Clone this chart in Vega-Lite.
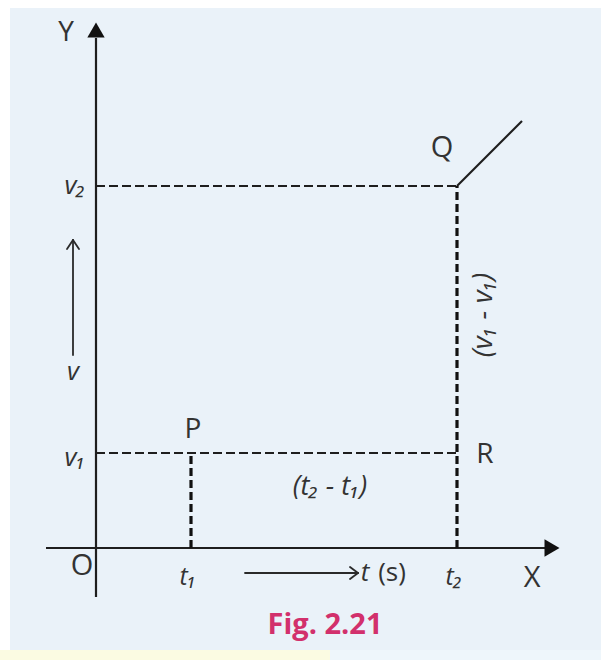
{
  "$schema": "https://vega.github.io/schema/vega-lite/v6.json",
  "width": 601,
  "height": 660,
  "autosize": {"type": "fit", "contains": "padding"},
  "padding": 0,
  "background": "#ffffff",
  "config": {"view": {"stroke": null}},
  "datasets": {
    "panels": [
      {"x": -8.6, "x2": 50.5, "y": 54.0, "y2": -10.2, "fill": "panel"},
      {"x": -9.6, "x2": 23.4, "y": -10.2, "y2": -11.2, "fill": "yellow"},
      {"x": 23.4, "x2": 50.5, "y": -10.2, "y2": -11.2, "fill": "strip"}
    ],
    "segments": [
      {"kind": "axis", "x": 0, "y": -4.9, "x2": 0, "y2": 51.0},
      {"kind": "axis", "x": -5.0, "y": 0, "x2": 44.9, "y2": 0},
      {"kind": "axis", "x": 36.1, "y": 36.2, "x2": 42.6, "y2": 42.7},
      {"kind": "thin", "x": -2.3, "y": 19.3, "x2": -2.3, "y2": 30.8},
      {"kind": "thin", "x": -2.3, "y": 30.8, "x2": -2.9, "y2": 29.9},
      {"kind": "thin", "x": -2.3, "y": 30.8, "x2": -1.7, "y2": 29.9},
      {"kind": "thin", "x": 14.9, "y": -2.5, "x2": 26.2, "y2": -2.5},
      {"kind": "thin", "x": 26.2, "y": -2.5, "x2": 25.4, "y2": -1.9},
      {"kind": "thin", "x": 26.2, "y": -2.5, "x2": 25.4, "y2": -3.1},
      {"kind": "dashH", "x": 0, "y": 36.2, "x2": 36.1, "y2": 36.2},
      {"kind": "dashH", "x": 0, "y": 9.5, "x2": 36.1, "y2": 9.5},
      {"kind": "dashV", "x": 9.5, "y": 0, "x2": 9.5, "y2": 9.5},
      {"kind": "dashV", "x": 36.1, "y": 0, "x2": 36.1, "y2": 36.2}
    ],
    "heads": [
      {"x": 0, "y": 51.8, "shape": "triangle-up"},
      {"x": 45.6, "y": 0, "shape": "triangle-right"}
    ],
    "labels": [
      {"label": "Y", "x": -3.0, "y": 51.5, "style": "plain", "angle": 0, "size": 28},
      {"label": "O", "x": -1.4, "y": -1.8, "style": "plain", "angle": 0, "size": 29},
      {"label": "X", "x": 43.6, "y": -3.0, "style": "plain", "angle": 0, "size": 29},
      {"label": "P", "x": 9.7, "y": 11.8, "style": "plain", "angle": 0, "size": 28},
      {"label": "Q", "x": 34.6, "y": 40.0, "style": "plain", "angle": 0, "size": 29},
      {"label": "R", "x": 38.9, "y": 9.3, "style": "plain", "angle": 0, "size": 28},
      {"label": "v₂", "x": -2.1, "y": 36.2, "style": "italic", "angle": 0, "size": 26},
      {"label": "v", "x": -2.3, "y": 17.6, "style": "italic", "angle": 0, "size": 26},
      {"label": "v₁", "x": -2.1, "y": 9.0, "style": "italic", "angle": 0, "size": 26},
      {"label": "t₁", "x": 9.2, "y": -2.9, "style": "italic", "angle": 0, "size": 25},
      {"label": "t₂", "x": 35.8, "y": -2.9, "style": "italic", "angle": 0, "size": 25},
      {"label": "t", "x": 26.9, "y": -2.5, "style": "italic", "angle": 0, "size": 26},
      {"label": "(s)", "x": 29.6, "y": -2.5, "style": "plain", "angle": 0, "size": 26},
      {"label": "(t₂ - t₁)", "x": 23.4, "y": 6.1, "style": "italic", "angle": 0, "size": 27},
      {"label": "(v₁ - v₁)", "x": 38.8, "y": 23.3, "style": "italic", "angle": 270, "size": 28}
    ],
    "caption": [
      {"label": "Fig. 2.21", "x": 22.9, "y": -7.7}
    ]
  },
  "layer": [
    {
      "data": {"name": "panels"},
      "mark": {"type": "rect"},
      "encoding": {
        "x": {"field": "x", "type": "quantitative", "scale": {"domain": [-9.6, 50.5], "nice": false, "zero": false}, "axis": null},
        "x2": {"field": "x2"},
        "y": {"field": "y", "type": "quantitative", "scale": {"domain": [-11.2, 54.8], "nice": false, "zero": false}, "axis": null},
        "y2": {"field": "y2"},
        "color": {"field": "fill", "type": "nominal", "legend": null, "scale": {"domain": ["panel", "yellow", "strip"], "range": ["#eaf2f9", "#fbfbe2", "#eef6fb"]}}
      }
    },
    {
      "data": {"name": "segments"},
      "transform": [{"filter": "datum.kind === 'axis'"}],
      "mark": {"type": "rule", "color": "#1e1e1e", "strokeWidth": 2.2},
      "encoding": {
        "x": {"field": "x", "type": "quantitative"},
        "y": {"field": "y", "type": "quantitative"},
        "x2": {"field": "x2"},
        "y2": {"field": "y2"}
      }
    },
    {
      "data": {"name": "segments"},
      "transform": [{"filter": "datum.kind === 'thin'"}],
      "mark": {"type": "rule", "color": "#2a2a2a", "strokeWidth": 1.8, "strokeCap": "round"},
      "encoding": {
        "x": {"field": "x", "type": "quantitative"},
        "y": {"field": "y", "type": "quantitative"},
        "x2": {"field": "x2"},
        "y2": {"field": "y2"}
      }
    },
    {
      "data": {"name": "segments"},
      "transform": [{"filter": "datum.kind === 'dashH'"}],
      "mark": {"type": "rule", "color": "#1e1e1e", "strokeWidth": 2, "strokeDash": [9, 4]},
      "encoding": {
        "x": {"field": "x", "type": "quantitative"},
        "y": {"field": "y", "type": "quantitative"},
        "x2": {"field": "x2"},
        "y2": {"field": "y2"}
      }
    },
    {
      "data": {"name": "segments"},
      "transform": [{"filter": "datum.kind === 'dashV'"}],
      "mark": {"type": "rule", "color": "#111111", "strokeWidth": 3.2, "strokeDash": [8, 4]},
      "encoding": {
        "x": {"field": "x", "type": "quantitative"},
        "y": {"field": "y", "type": "quantitative"},
        "x2": {"field": "x2"},
        "y2": {"field": "y2"}
      }
    },
    {
      "data": {"name": "heads"},
      "mark": {"type": "point", "filled": true, "color": "#111111", "size": 300, "opacity": 1},
      "encoding": {
        "x": {"field": "x", "type": "quantitative"},
        "y": {"field": "y", "type": "quantitative"},
        "shape": {"field": "shape", "type": "nominal", "scale": null, "legend": null}
      }
    },
    {
      "data": {"name": "labels"},
      "transform": [{"filter": "datum.style === 'plain'"}],
      "mark": {"type": "text", "font": "Open Sans", "color": "#333333", "align": "center", "baseline": "middle"},
      "encoding": {
        "x": {"field": "x", "type": "quantitative"},
        "y": {"field": "y", "type": "quantitative"},
        "text": {"field": "label"},
        "size": {"field": "size", "type": "quantitative", "scale": null}
      }
    },
    {
      "data": {"name": "labels"},
      "transform": [{"filter": "datum.style === 'italic'"}],
      "mark": {"type": "text", "font": "Open Sans", "fontStyle": "italic", "color": "#333333", "align": "center", "baseline": "middle"},
      "encoding": {
        "x": {"field": "x", "type": "quantitative"},
        "y": {"field": "y", "type": "quantitative"},
        "text": {"field": "label"},
        "size": {"field": "size", "type": "quantitative", "scale": null},
        "angle": {"field": "angle", "type": "quantitative", "scale": null}
      }
    },
    {
      "data": {"name": "caption"},
      "mark": {"type": "text", "font": "Open Sans", "fontSize": 29, "fontWeight": "bold", "color": "#d2306c", "align": "center", "baseline": "middle"},
      "encoding": {
        "x": {"field": "x", "type": "quantitative"},
        "y": {"field": "y", "type": "quantitative"},
        "text": {"field": "label"}
      }
    }
  ]
}
